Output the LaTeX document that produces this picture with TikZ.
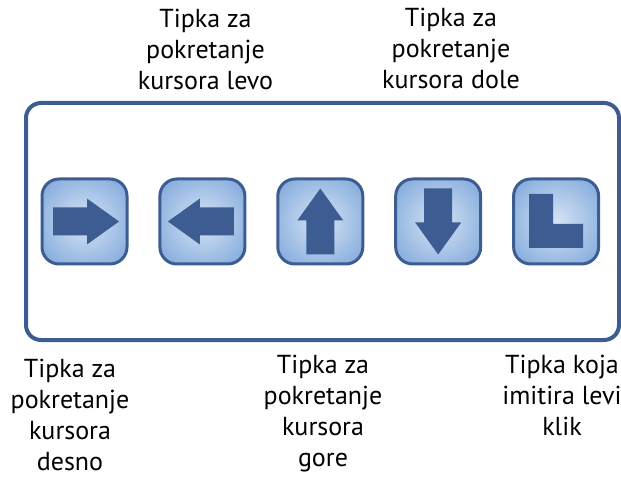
\documentclass[tikz,border=0pt]{standalone}
\usepackage{fontspec}
\setmainfont{PT Sans}
\definecolor{keyBlue}{HTML}{3D5D92}
\definecolor{keyLight}{HTML}{D6E4F5}
\definecolor{keyOuter}{HTML}{7BA5D9}
\pgfdeclareradialshading{keyGlow}{\pgfpoint{0bp}{0bp}}{color(0bp)=(keyLight); color(36bp)=(keyOuter); color(50bp)=(keyOuter)}
\newcommand\keySpacing{117.9}
\tikzset{
    keybox/.style={draw=keyBlue, line width=3pt, rounded corners=17pt, minimum size=85pt, inner sep=0pt, shading=keyGlow},
    keysign/.style={fill=keyBlue, draw=none},
    caption/.style={align=center, font=\fontsize{26}{31}\selectfont, text=black, inner sep=0pt}
}

\begin{document}
\begin{tikzpicture}[x=1pt, y=-1pt]
    \useasboundingbox (0,0) rectangle (621,478);
    % Draw the outer frame
    \node [draw=keyBlue, line width=4pt, rounded corners=15pt, minimum width=593pt, minimum height=237pt, inner sep=0pt] (frame) at (322.5,221.5) {};
    % Draw the keys
    \foreach \n/\k in {0/keyRight, 1/keyLeft, 2/keyUp, 3/keyDown, 4/keyClick}
        \node [keybox] (\k) at (84.5+\n*\keySpacing,221.5) {};
    \def\arrowSign[#1,#2,#3]{% Arguments are the key name, the rotation and the offset along the arrow
        \fill [keysign, shift={(#1)}, rotate=#2, xshift=#3] (-31.5,-14) -- (2.5,-14) -- (2.5,-23) -- (34.5,0) -- (2.5,23) -- (2.5,14) -- (-31.5,14) -- cycle;
    }
    \arrowSign[keyRight,0,0pt];
    \arrowSign[keyLeft,180,0pt];
    \arrowSign[keyUp,90,-1.5pt];
    \arrowSign[keyDown,-90,-1.5pt];
    % Draw the click sign
    \fill [keysign, shift={(keyClick)}] (-27,-27.5) -- (-3,-27.5) -- (-3,2.5) -- (27,2.5) -- (27,26.5) -- (-27,26.5) -- cycle;
    % Draw node text
    \node [caption] (textLeft) at (205.5,49) {Tipka za\\pokretanje\\kursora levo};
    \node [caption] (textDown) at (451,48) {Tipka za\\pokretanje\\kursora dole};
    \node [caption] (textRight) at (70,414.5) {Tipka za\\pokretanje\\kursora\\desno};
    \node [caption] (textUp) at (323,413.5) {Tipka za\\pokretanje\\kursora\\gore};
    \node [caption] (textClick) at (562,395) {Tipka koja\\imitira levi\\klik};
\end{tikzpicture}
\end{document}
